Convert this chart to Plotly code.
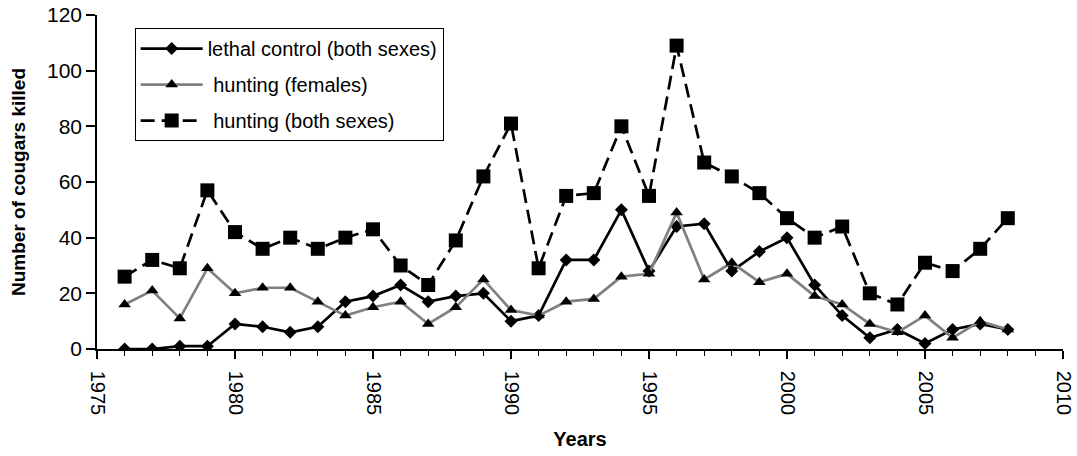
import plotly.graph_objects as go

years = list(range(1976, 2009))
lethal_control = [0, 0, 1, 1, 9, 8, 6, 8, 17, 19, 23, 17, 19, 20, 10, 12, 32, 32, 50, 28,
                  44, 45, 28, 35, 40, 23, 12, 4, 7, 2, 7, 9, 7]
hunting_females = [16, 21, 11, 29, 20, 22, 22, 17, 12, 15, 17, 9, 15, 25, 14, 12, 17, 18, 26, 27,
                   49, 25, 31, 24, 27, 19, 16, 9, 6, 12, 4, 10, 7]
hunting_both = [26, 32, 29, 57, 42, 36, 40, 36, 40, 43, 30, 23, 39, 62, 81, 29, 55, 56, 80, 55,
                109, 67, 62, 56, 47, 40, 44, 20, 16, 31, 28, 36, 47]

FONT = "Arial, Liberation Sans, sans-serif"

fig = go.Figure()
fig.add_trace(go.Scatter(
    x=years, y=lethal_control, mode="lines+markers", name="lethal control (both sexes)",
    line=dict(color="black", width=2.7),
    marker=dict(symbol="diamond", size=10, color="black"),
    legendgroup="a"))
fig.add_trace(go.Scatter(
    x=years, y=hunting_females, mode="lines+markers", name=" hunting (females)",
    line=dict(color="#808080", width=2.7),
    marker=dict(symbol="triangle-up", size=11, color="black"),
    legendgroup="b"))
fig.add_trace(go.Scatter(
    x=years, y=hunting_both, mode="lines+markers", name=" hunting (both sexes)",
    line=dict(color="black", width=2.7, dash="14px,7px"),
    marker=dict(symbol="square", size=14, color="black"),
    legendgroup="c"))

fig.update_layout(
    width=1077, height=456,
    margin=dict(l=97, r=14, t=15, b=107, pad=0),
    paper_bgcolor="white", plot_bgcolor="white",
    font=dict(family=FONT, size=20, color="black"),
    showlegend=True,
    legend=dict(
        x=0.039, y=0.961, xanchor="left", yanchor="top",
        bgcolor="white", bordercolor="black", borderwidth=1,
        font=dict(family=FONT, size=20, color="black"),
        itemwidth=62, tracegroupgap=7,
    ),
    xaxis=dict(
        range=[1975, 2010], tickmode="linear", tick0=1975, dtick=5,
        tickangle=90, showgrid=False, zeroline=False, automargin=False,
        ticklabeloverflow="allow", ticklabelstandoff=8,
        showline=True, linecolor="black", linewidth=1.5,
        ticks="outside", ticklen=8, tickcolor="black", tickwidth=1.5,
        minor=dict(dtick=1, tick0=1975, ticks="outside", ticklen=5, tickcolor="black", tickwidth=1.2),
        tickfont=dict(family=FONT, size=20),
        title=dict(text="<b>Years</b>", font=dict(family=FONT, size=20), standoff=18),
    ),
    yaxis=dict(
        range=[0, 120], tickmode="linear", tick0=0, dtick=20,
        showgrid=False, zeroline=False, automargin=False,
        ticklabeloverflow="allow",
        showline=True, linecolor="black", linewidth=1.5,
        ticks="outside", ticklen=9, tickcolor="black", tickwidth=1.5,
        tickfont=dict(family=FONT, size=21),
        title=dict(text="<b>Number of cougars killed</b>", font=dict(family=FONT, size=19), standoff=16),
    ),
)

fig.write_html("out.html", config={"displayModeBar": False},
               post_script="document.body.style.margin='0';")
